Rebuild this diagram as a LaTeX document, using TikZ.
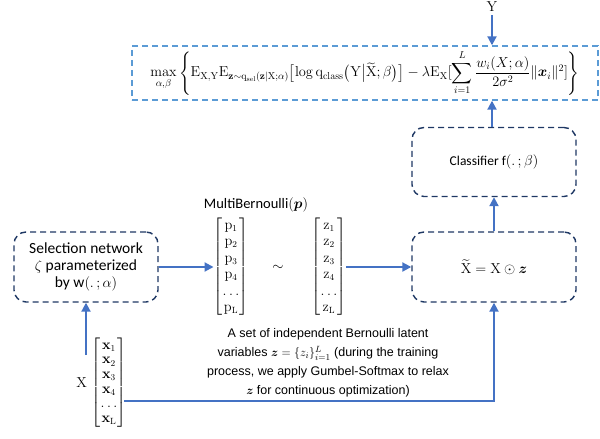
\documentclass[tikz,border=0pt]{standalone}
\usepackage{amsmath,amssymb}
\usepackage[no-math]{fontspec}
\setmainfont{Carlito}
\newfontfamily\notefont{Liberation Sans}
\usetikzlibrary{arrows.meta}
\definecolor{flow}{RGB}{68,114,196}
\definecolor{frame}{RGB}{31,56,100}
\definecolor{goalframe}{RGB}{91,155,213}

\begin{document}
\begin{tikzpicture}[x=1pt,y=-1pt,
  every node/.style={font=\fontsize{13.5}{16}\selectfont},
  netbox/.style={draw=frame,line width=1.4pt,dash pattern=on 6pt off 4pt,rounded corners=12pt,align=center,inner sep=0pt},
  goalbox/.style={draw=goalframe,line width=1.4pt,dash pattern=on 6pt off 4pt,inner sep=0pt},
  flowline/.style={draw=flow,line width=2pt,-{Triangle[length=9pt,width=9pt]}},
  vec/.style={inner sep=0pt,font=\fontsize{13.5}{15}\selectfont}]
\useasboundingbox (0,0) rectangle (600,439);

\node (Ylabel) at (492,7) {$\mathrm{Y}$};
\node[goalbox,minimum width=466pt,minimum height=54pt] (objective) at (365,73)
  {\fontsize{14.5}{17}\selectfont$\displaystyle\max_{\alpha,\beta}\left\{\mathrm{E}_{\mathrm{X,Y}}\mathrm{E}_{\mathbf{z}\sim\mathrm{q_{sel}}(\mathbf{z}|\mathrm{X};\alpha)}\bigl[\log\mathrm{q_{class}}\bigl(\mathrm{Y}\big|\widetilde{\mathrm{X}};\beta\bigr)\bigr]-\lambda\mathrm{E}_{\mathrm{X}}[\sum_{i=1}^{L}\frac{w_i(X;\alpha)}{2\sigma^2}\|\boldsymbol{x}_i\|^2]\right\}$};
\node[netbox,minimum width=164pt,minimum height=69pt] (classifier) at (494,162) {Classifier f$(.\,;\beta)$};
\node[netbox,minimum width=164pt,minimum height=70pt] (masked) at (494,267) {$\widetilde{\mathrm{X}}=\mathrm{X}\odot\boldsymbol{z}$};
\node[netbox,minimum width=144pt,minimum height=70pt,font=\fontsize{15.5}{18}\selectfont] (selector) at (86,267)
  {Selection network\\[-1pt] $\zeta$ parameterized\\[-1pt] by w$(.\,;\alpha)$};

\node[vec] (pvec) at (231,267) {$\renewcommand{\arraystretch}{1.1}\begin{bmatrix}\mathrm{p}_1\\ \mathrm{p}_2\\ \mathrm{p}_3\\ \mathrm{p}_4\\ \dots\\ \mathrm{p}_{\mathrm{L}}\end{bmatrix}$};
\node[font=\fontsize{14.5}{17}\selectfont] (pname) at (256,205) {MultiBernoulli$(\boldsymbol{p})$};
\node (sim) at (278,268) {$\sim$};
\node[vec] (zvec) at (329,267) {$\renewcommand{\arraystretch}{1.1}\begin{bmatrix}\mathrm{z}_1\\ \mathrm{z}_2\\ \mathrm{z}_3\\ \mathrm{z}_4\\ \dots\\ \mathrm{z}_{\mathrm{L}}\end{bmatrix}$};
\node[vec] (xvec) at (109,383) {$\renewcommand{\arraystretch}{0.98}\begin{bmatrix}\mathbf{x}_1\\ \mathbf{x}_2\\ \mathbf{x}_3\\ \mathbf{x}_4\\ \dots\\ \mathbf{x}_{\mathrm{L}}\end{bmatrix}$};
\node[left=1pt] (xname) at (xvec.west) {$\mathrm{X}$};
\node[align=center,font=\notefont\fontsize{12.5}{19}\selectfont] (note) at (328,363)
  {A set of independent Bernoulli latent\\ variables $\boldsymbol{z}=\{z_i\}_{i=1}^{L}$ (during the training\\ process, we apply Gumbel-Softmax to relax\\ $\boldsymbol{z}$ for continuous optimization)};

\coordinate (xin) at (86,355);
\coordinate (xout) at (124,401);

\draw[flowline] (Ylabel) -- (Ylabel |- objective.north);
\draw[flowline] (classifier.north -| 492,0) -- (492,0 |- objective.south);
\draw[flowline] (masked.north) -- (classifier.south);
\draw[flowline] (zvec.east) -- (masked.west);
\draw[flowline] (selector.east) -- (pvec.west);
\draw[flowline] (xin) -- (selector.south);
\draw[flowline] (xout) -| (masked.south);
\end{tikzpicture}
\end{document}
